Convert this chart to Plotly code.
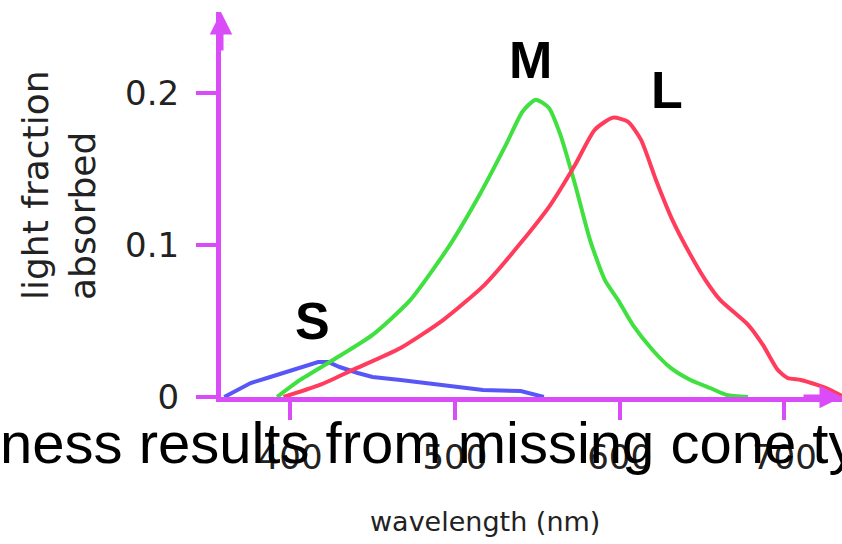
import plotly.graph_objects as go

# ---- data ----
s_wl = [360, 376, 386, 396, 406, 417, 423, 430, 441, 450, 467, 483, 499, 517, 540, 548, 554]
s_val = [0.0, 0.0092, 0.0125, 0.0158, 0.019, 0.023, 0.023, 0.0197, 0.0158, 0.0132, 0.0112,
         0.0092, 0.0066, 0.0046, 0.0039, 0.0013, 0.0]

m_wl = [392, 406, 426, 450, 473, 497, 515, 531, 541, 549, 557, 564, 573, 582, 591, 599, 608,
        620, 631, 643, 655, 665, 678]
m_val = [0.0, 0.0112, 0.0243, 0.0408, 0.0638, 0.1, 0.1329, 0.1658, 0.1875, 0.1954, 0.1901,
         0.1724, 0.1395, 0.1033, 0.077, 0.0638, 0.0474, 0.0309, 0.0191, 0.0112, 0.0059,
         0.0013, 0.0]

l_wl = [396, 418, 438, 467, 493, 518, 540, 558, 573, 585, 596, 605, 613, 622, 632, 643, 652,
        661, 678, 687, 696, 702, 710, 720, 728, 735]
l_val = [0.0, 0.0079, 0.0178, 0.0322, 0.0507, 0.0737, 0.1013, 0.1263, 0.1526, 0.1757, 0.1836,
         0.1809, 0.169, 0.1428, 0.1164, 0.0934, 0.077, 0.0638, 0.0474, 0.0342, 0.0178,
         0.0125, 0.0112, 0.0079, 0.0046, 0.0007]

x_ticks = [400, 500, 600, 700]
y_ticks = [0, 0.1, 0.2]
y_ticktext = ["0", "0.1", "0.2"]
curve_labels = ["S", "M", "L"]

W, H = 842, 544
MAG = "#d94cf7"
TXT = "#222222"
TICKFONT = dict(family="DejaVu Sans", size=34, color=TXT)


def px(x):
    return x / W


def py(y):
    return (H - y) / H


fig = go.Figure()
fig.add_trace(go.Scatter(x=s_wl, y=s_val, mode="lines",
                         line=dict(color="#5757f7", width=4), hoverinfo="skip"))
fig.add_trace(go.Scatter(x=m_wl, y=m_val, mode="lines",
                         line=dict(color="#3fe03f", width=4, shape="spline", smoothing=0.6),
                         hoverinfo="skip"))
fig.add_trace(go.Scatter(x=l_wl, y=l_val, mode="lines",
                         line=dict(color="#ff3c5c", width=4, shape="spline", smoothing=0.6),
                         hoverinfo="skip"))

fig.update_layout(
    width=W, height=H,
    margin=dict(l=0, r=0, t=0, b=0, autoexpand=False),
    paper_bgcolor="white", plot_bgcolor="white",
    showlegend=False,
    xaxis=dict(domain=[221 / W, 1.0], range=[358, 735], tickvals=x_ticks,
               showline=True, linecolor=MAG, linewidth=5, ticks="outside", ticklen=18,
               tickwidth=4, tickcolor=MAG, showgrid=False, zeroline=False,
               tickfont=TICKFONT, ticklabelstandoff=8, layer="below traces",
               automargin=False),
    yaxis=dict(domain=[py(397), py(12)], range=[0, 0.253], tickvals=y_ticks,
               ticktext=y_ticktext, showline=True, linecolor=MAG, linewidth=5,
               ticks="outside", ticklen=20, tickwidth=4, tickcolor=MAG, showgrid=False,
               zeroline=False, tickfont=TICKFONT, ticklabelstandoff=10,
               layer="below traces", automargin=False),
)

annos = []
# axis arrowheads
annos.append(dict(x=0, y=0.253, xref="x domain", yref="y", ax=0, ay=40, showarrow=True,
                  arrowhead=2, arrowsize=0.9, arrowwidth=5, arrowcolor=MAG, text=""))
annos.append(dict(x=735, y=0, xref="x", yref="y", ax=-40, ay=0, showarrow=True,
                  arrowhead=2, arrowsize=0.9, arrowwidth=5, arrowcolor=MAG, text=""))
# curve labels
for lab, (cx, cy) in zip(curve_labels, [(312, 321), (530, 60), (667, 90)]):
    annos.append(dict(x=px(cx), y=py(cy), xref="paper", yref="paper", text=lab,
                      showarrow=False, xanchor="center", yanchor="middle",
                      font=dict(family="Liberation Sans", size=52, color="black",
                                weight="bold")))
# axis titles
annos.append(dict(x=px(59), y=py(185), xref="paper", yref="paper",
                  text="light fraction<br>absorbed", textangle=-90, align="left",
                  showarrow=False, xanchor="center", yanchor="middle",
                  font=dict(family="DejaVu Sans", size=36, color=TXT)))
annos.append(dict(x=px(485), y=py(521), xref="paper", yref="paper",
                  text="wavelength (nm)", showarrow=False, xanchor="center",
                  yanchor="middle",
                  font=dict(family="DejaVu Sans", size=27, color=TXT)))
# overlay caption text
annos.append(dict(x=px(-2), y=py(442), xref="paper", yref="paper",
                  text="ness results from missing cone ty", showarrow=False,
                  xanchor="left", yanchor="middle",
                  font=dict(family="Liberation Sans", size=58, color="black")))

fig.update_layout(annotations=annos)
fig.write_html("out.html")
